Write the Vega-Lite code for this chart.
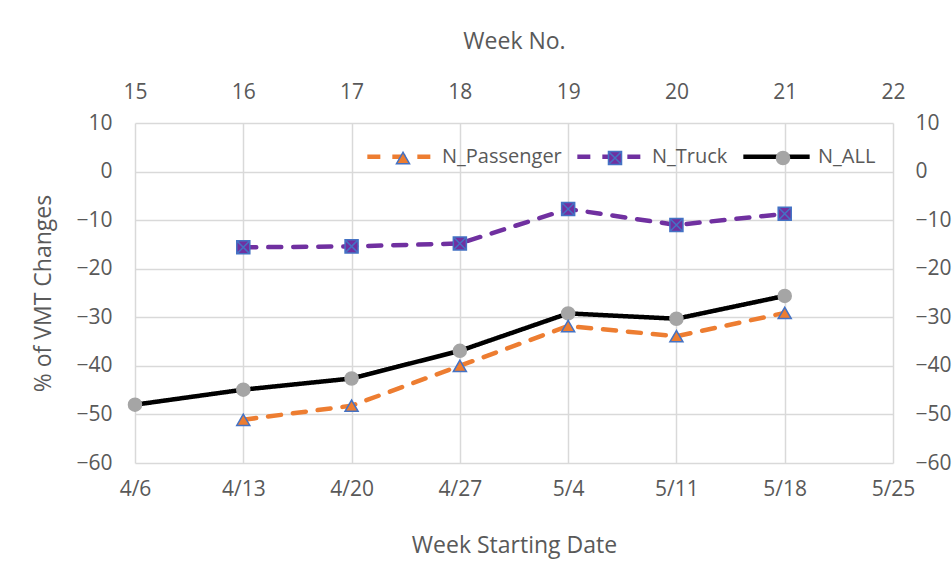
{
  "$schema": "https://vega.github.io/schema/vega-lite/v6.json",
  "width": 758,
  "height": 340,
  "autosize": {"type": "none"},
  "padding": {"left": 135, "top": 123, "right": 59, "bottom": 117},
  "background": "white",
  "config": {
    "font": "Open Sans",
    "view": {"stroke": null},
    "axis": {
      "labelFont": "Open Sans", "titleFont": "Open Sans",
      "labelFontSize": 21, "titleFontSize": 23, "titleFontWeight": "normal",
      "labelColor": "#595959", "titleColor": "#595959", "labelFlush": false,
      "gridColor": "#D9D9D9", "gridWidth": 1.5, "domain": false, "ticks": false
    }
  },
  "data": {
    "values": [
      {"week": 15, "series": "N_ALL", "ord": 3, "value": -48.0},
      {"week": 16, "series": "N_ALL", "ord": 3, "value": -44.9},
      {"week": 17, "series": "N_ALL", "ord": 3, "value": -42.6},
      {"week": 18, "series": "N_ALL", "ord": 3, "value": -36.9},
      {"week": 19, "series": "N_ALL", "ord": 3, "value": -29.2},
      {"week": 20, "series": "N_ALL", "ord": 3, "value": -30.3},
      {"week": 21, "series": "N_ALL", "ord": 3, "value": -25.6},
      {"week": 16, "series": "N_Passenger", "ord": 1, "value": -51.1},
      {"week": 17, "series": "N_Passenger", "ord": 1, "value": -48.2},
      {"week": 18, "series": "N_Passenger", "ord": 1, "value": -40.0},
      {"week": 19, "series": "N_Passenger", "ord": 1, "value": -31.8},
      {"week": 20, "series": "N_Passenger", "ord": 1, "value": -33.9},
      {"week": 21, "series": "N_Passenger", "ord": 1, "value": -29.1},
      {"week": 16, "series": "N_Truck", "ord": 2, "value": -15.6},
      {"week": 17, "series": "N_Truck", "ord": 2, "value": -15.4},
      {"week": 18, "series": "N_Truck", "ord": 2, "value": -14.8},
      {"week": 19, "series": "N_Truck", "ord": 2, "value": -7.7},
      {"week": 20, "series": "N_Truck", "ord": 2, "value": -11.0},
      {"week": 21, "series": "N_Truck", "ord": 2, "value": -8.7}
    ]
  },
  "layer": [
    {
      "mark": {"type": "line", "strokeWidth": 4.5, "strokeCap": "round"},
      "encoding": {
        "x": {"field": "week", "type": "quantitative",
              "scale": {"domain": [15, 22], "nice": false, "zero": false},
              "axis": {"orient": "bottom", "title": "Week Starting Date", "values": [15,16,17,18,19,20,21,22],
                       "labelExpr": "['4/6','4/13','4/20','4/27','5/4','5/11','5/18','5/25'][datum.value - 15]",
                       "labelPadding": 15, "titlePadding": 35, "grid": true}},
        "y": {"field": "value", "type": "quantitative",
              "scale": {"domain": [-60, 10], "nice": false, "zero": false},
              "axis": {"orient": "left", "title": "% of VMT Changes", "values": [-60,-50,-40,-30,-20,-10,0,10],
                       "labelPadding": 23, "titlePadding": 20, "grid": true}},
        "color": {"field": "series", "type": "nominal",
                  "scale": {"domain": ["N_Passenger", "N_Truck", "N_ALL"], "range": ["#ED7D31", "#7030A0", "#000000"]},
                  "legend": {"title": null, "orient": "none", "legendX": 230, "legendY": -2, "direction": "horizontal",
                             "symbolType": "stroke", "symbolSize": 4400, "symbolStrokeWidth": 4.5,
                             "labelFontSize": 20, "labelColor": "#595959", "labelFont": "Open Sans", "labelOffset": 6, "columnPadding": 6}},
        "strokeDash": {"field": "series", "type": "nominal",
                       "scale": {"domain": ["N_Passenger", "N_Truck", "N_ALL"], "range": [[13, 12], [13, 12], [1, 0]]},
                       "legend": {"title": null, "orient": "none", "legendX": 230, "legendY": -2, "direction": "horizontal",
                                  "symbolType": "stroke", "symbolSize": 4400, "symbolStrokeWidth": 4.5,
                                  "labelFontSize": 20, "labelColor": "#595959", "labelFont": "Open Sans", "labelOffset": 6, "columnPadding": 6}},
        "order": {"field": "week", "type": "quantitative"}
      }
    },
    {
      "mark": {"type": "point", "filled": true, "strokeWidth": 1.5, "opacity": 1},
      "encoding": {
        "x": {"field": "week", "type": "quantitative",
              "axis": {"orient": "top", "title": "Week No.", "values": [15,16,17,18,19,20,21,22],
                       "labelPadding": 21, "titlePadding": 28, "grid": false}},
        "y": {"field": "value", "type": "quantitative",
              "axis": {"orient": "right", "title": null, "values": [-60,-50,-40,-30,-20,-10,0,10],
                       "labelPadding": 22, "grid": false}},
        "shape": {"field": "series", "type": "nominal", "sort": {"field": "ord", "op": "min"},
                  "scale": {"range": ["triangle-up", "M-1,-1H1V1H-1Z M-1,-1L1,1 M1,-1L-1,1", "circle"]},
                  "legend": {"title": null, "orient": "none", "legendX": 230, "legendY": 25, "direction": "horizontal",
                             "symbolSize": 170, "symbolStrokeWidth": 1.5, "symbolOffset": 28,
                             "labelFontSize": 20, "labelFont": "Open Sans", "labelOpacity": 0, "labelOffset": 44, "columnPadding": 0}},
        "fill": {"field": "series", "type": "nominal", "sort": {"field": "ord", "op": "min"},
                 "scale": {"range": ["#ED7D31", "#7030A0", "#A5A5A5"]},
                 "legend": {"title": null, "orient": "none", "legendX": 230, "legendY": 25, "direction": "horizontal",
                             "symbolSize": 170, "symbolStrokeWidth": 1.5, "symbolOffset": 28,
                             "labelFontSize": 20, "labelFont": "Open Sans", "labelOpacity": 0, "labelOffset": 44, "columnPadding": 0}},
        "stroke": {"field": "series", "type": "nominal", "sort": {"field": "ord", "op": "min"},
                   "scale": {"range": ["#4472C4", "#4472C4", "#A5A5A5"]},
                   "legend": {"title": null, "orient": "none", "legendX": 230, "legendY": 25, "direction": "horizontal",
                             "symbolSize": 170, "symbolStrokeWidth": 1.5, "symbolOffset": 28,
                             "labelFontSize": 20, "labelFont": "Open Sans", "labelOpacity": 0, "labelOffset": 44, "columnPadding": 0}},
        "size": {"value": 170}
      }
    }
  ],
  "resolve": {"axis": {"x": "independent", "y": "independent"}}
}
